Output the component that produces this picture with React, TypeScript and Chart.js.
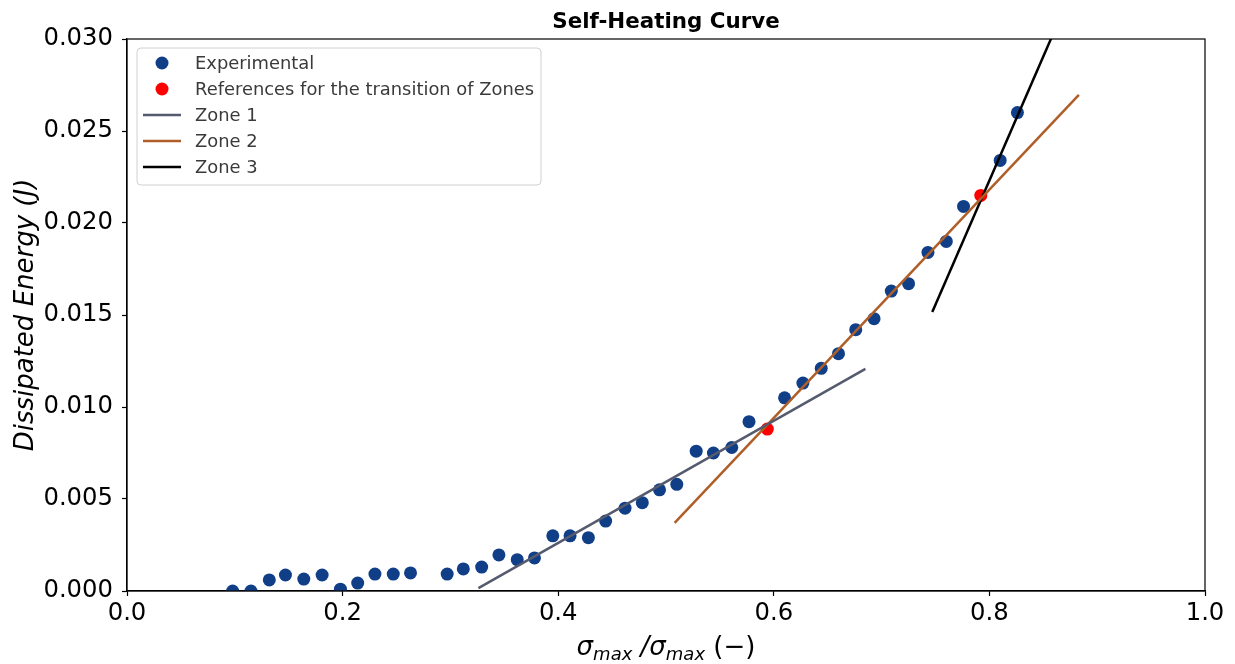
import { useEffect, useRef } from "react";
import { Chart, registerables } from "chart.js";

Chart.register(...registerables);

// Experimental points (stress ratio vs dissipated energy)
const expX = [
  0.098, 0.115, 0.132, 0.147, 0.164, 0.181, 0.198, 0.214, 0.23, 0.247, 0.263,
  0.297, 0.312, 0.329, 0.345, 0.362, 0.378, 0.395, 0.411, 0.428, 0.444, 0.462,
  0.478, 0.494, 0.51, 0.528, 0.544, 0.561, 0.577, 0.61, 0.627, 0.644, 0.66,
  0.676, 0.693, 0.709, 0.725, 0.743, 0.76, 0.776, 0.81, 0.826,
];
const expY = [
  0.0, 0.0, 0.0006, 0.00087, 0.00065, 0.00087, 0.0001, 0.00043, 0.00092,
  0.00092, 0.00098, 0.00092, 0.0012, 0.0013, 0.00196, 0.0017, 0.0018, 0.003,
  0.003, 0.0029, 0.0038, 0.0045, 0.0048, 0.0055, 0.0058, 0.0076, 0.0075,
  0.0078, 0.0092, 0.0105, 0.0113, 0.0121, 0.0129, 0.0142, 0.0148, 0.0163,
  0.0167, 0.0184, 0.019, 0.0209, 0.0234, 0.026,
];

// Transition references
const refX = [0.594, 0.792];
const refY = [0.0088, 0.0215];

// Zone fits (end points)
const zone1X = [0.326, 0.685];
const zone1Y = [0.00016, 0.01207];
const zone2X = [0.508, 0.883];
const zone2Y = [0.0037, 0.02696];
const zone3X = [0.747, 0.883];
const zone3Y = [0.01516, 0.0335];

const xTicks = [0, 0.2, 0.4, 0.6, 0.8, 1.0];
const yTicks = [0, 0.005, 0.01, 0.015, 0.02, 0.025, 0.03];

const BLUE = "#103f88";
const RED = "#ff0000";
const GRAY = "#555a6e";
const ORANGE = "#b05e28";
const FONT = "'DejaVu Sans', sans-serif";

const pts = (xs: number[], ys: number[]) => xs.map((x, i) => ({ x, y: ys[i] }));

const legendItems = [
  { label: "Experimental", color: BLUE, kind: "dot" },
  { label: "References for the transition of Zones", color: RED, kind: "dot" },
  { label: "Zone 1", color: GRAY, kind: "line" },
  { label: "Zone 2", color: ORANGE, kind: "line" },
  { label: "Zone 3", color: "#000000", kind: "line" },
];

const decorPlugin = {
  id: "decor",
  afterDatasetsDraw(chart: any) {
    const { ctx, chartArea } = chart;
    const { left, right, top, bottom } = chartArea;
    ctx.save();
    // frame (all four spines)
    ctx.strokeStyle = "#000";
    ctx.lineWidth = 1.2;
    ctx.strokeRect(left, top, right - left, bottom - top);

    // legend box
    const bx = 137, by = 48, bw = 404, bh = 137;
    ctx.beginPath();
    ctx.roundRect(bx, by, bw, bh, 4);
    ctx.fillStyle = "rgba(255,255,255,0.85)";
    ctx.fill();
    ctx.strokeStyle = "#d0d0d0";
    ctx.lineWidth = 1;
    ctx.stroke();
    ctx.font = `17.9px ${FONT}`;
    ctx.textBaseline = "middle";
    ctx.textAlign = "left";
    legendItems.forEach((it, i) => {
      const cy = 63 + i * 26;
      if (it.kind === "dot") {
        ctx.beginPath();
        ctx.arc(162, cy, 6.5, 0, Math.PI * 2);
        ctx.fillStyle = it.color;
        ctx.fill();
      } else {
        ctx.beginPath();
        ctx.moveTo(143, cy);
        ctx.lineTo(181, cy);
        ctx.strokeStyle = it.color;
        ctx.lineWidth = 2.5;
        ctx.stroke();
      }
      ctx.fillStyle = "#3a3a3a";
      ctx.fillText(it.label, 195, cy + 1);
    });

    // title
    ctx.fillStyle = "#000";
    ctx.textAlign = "center";
    ctx.textBaseline = "alphabetic";
    ctx.font = `bold 21.4px ${FONT}`;
    ctx.fillText("Self-Heating Curve", (left + right) / 2, 28);

    // y axis title
    ctx.save();
    ctx.translate(33, (top + bottom) / 2);
    ctx.rotate(-Math.PI / 2);
    ctx.font = `italic 26px ${FONT}`;
    ctx.fillText("Dissipated Energy (J)", 0, 0);
    ctx.restore();

    // x axis title with subscripts
    const parts = [
      { t: "σ", f: `italic 26px ${FONT}`, dy: 0 },
      { t: "max", f: `italic 18px ${FONT}`, dy: 5 },
      { t: " /σ", f: `italic 26px ${FONT}`, dy: 0 },
      { t: "max", f: `italic 18px ${FONT}`, dy: 5 },
      { t: " (−)", f: `26px ${FONT}`, dy: 0 },
    ];
    let total = 0;
    parts.forEach((p) => {
      ctx.font = p.f;
      total += ctx.measureText(p.t).width;
    });
    let x = (left + right) / 2 - total / 2;
    ctx.textAlign = "left";
    parts.forEach((p) => {
      ctx.font = p.f;
      ctx.fillText(p.t, x, 655 + p.dy);
      x += ctx.measureText(p.t).width;
    });
    ctx.restore();
  },
};

export default function App() {
  const canvasRef = useRef<HTMLCanvasElement>(null);

  useEffect(() => {
    if (!canvasRef.current) return;
    const chart = new Chart(canvasRef.current, {
      type: "scatter",
      data: {
        datasets: [
          {
            label: "Zone 1",
            data: pts(zone1X, zone1Y),
            showLine: true,
            borderColor: GRAY,
            borderWidth: 2.5,
            pointRadius: 0,
            order: 0,
          },
          {
            label: "Zone 2",
            data: pts(zone2X, zone2Y),
            showLine: true,
            borderColor: ORANGE,
            borderWidth: 2.5,
            pointRadius: 0,
            order: 0,
          },
          {
            label: "Zone 3",
            data: pts(zone3X, zone3Y),
            showLine: true,
            borderColor: "#000000",
            borderWidth: 2.5,
            pointRadius: 0,
            order: 0,
          },
          {
            label: "References for the transition of Zones",
            data: pts(refX, refY),
            backgroundColor: RED,
            borderWidth: 0,
            pointRadius: 6.5,
            order: 1,
          },
          {
            label: "Experimental",
            data: pts(expX, expY),
            backgroundColor: BLUE,
            borderWidth: 0,
            pointRadius: 6.5,
            order: 2,
          },
        ],
      },
      options: {
        responsive: true,
        maintainAspectRatio: false,
        animation: false,
        layout: { padding: { top: 39, right: 30, left: 0, bottom: 0 } },
        plugins: {
          legend: { display: false },
          tooltip: { enabled: false },
          title: { display: false },
        },
        scales: {
          x: {
            type: "linear",
            min: 0,
            max: 1,
            afterFit: (s: any) => {
              s.height = 73;
            },
            afterBuildTicks: (s: any) => {
              s.ticks = xTicks.map((v) => ({ value: v }));
            },
            grid: {
              drawOnChartArea: false,
              drawTicks: true,
              tickLength: 5,
              tickColor: "#000",
              tickWidth: 1.2,
            },
            border: { color: "#000", width: 1.2 },
            ticks: {
              color: "#000",
              padding: 3,
              maxRotation: 0,
              font: { family: FONT, size: 24.3 },
              callback: (v: any) => Number(v).toFixed(1),
            },
          },
          y: {
            type: "linear",
            min: 0,
            max: 0.03,
            afterFit: (s: any) => {
              s.width = 127;
            },
            afterBuildTicks: (s: any) => {
              s.ticks = yTicks.map((v) => ({ value: v }));
            },
            grid: {
              drawOnChartArea: false,
              drawTicks: true,
              tickLength: 5,
              tickColor: "#000",
              tickWidth: 1.2,
            },
            border: { color: "#000", width: 1.2 },
            ticks: {
              color: "#000",
              padding: 9,
              font: { family: FONT, size: 24.3 },
              callback: (v: any) => Number(v).toFixed(3),
            },
          },
        },
      },
      plugins: [decorPlugin],
    });
    return () => chart.destroy();
  }, []);

  return (
    <div style={{ position: "fixed", left: 0, top: 0, width: 1235, height: 664, background: "#fff" }}>
      <canvas ref={canvasRef} />
    </div>
  );
}
